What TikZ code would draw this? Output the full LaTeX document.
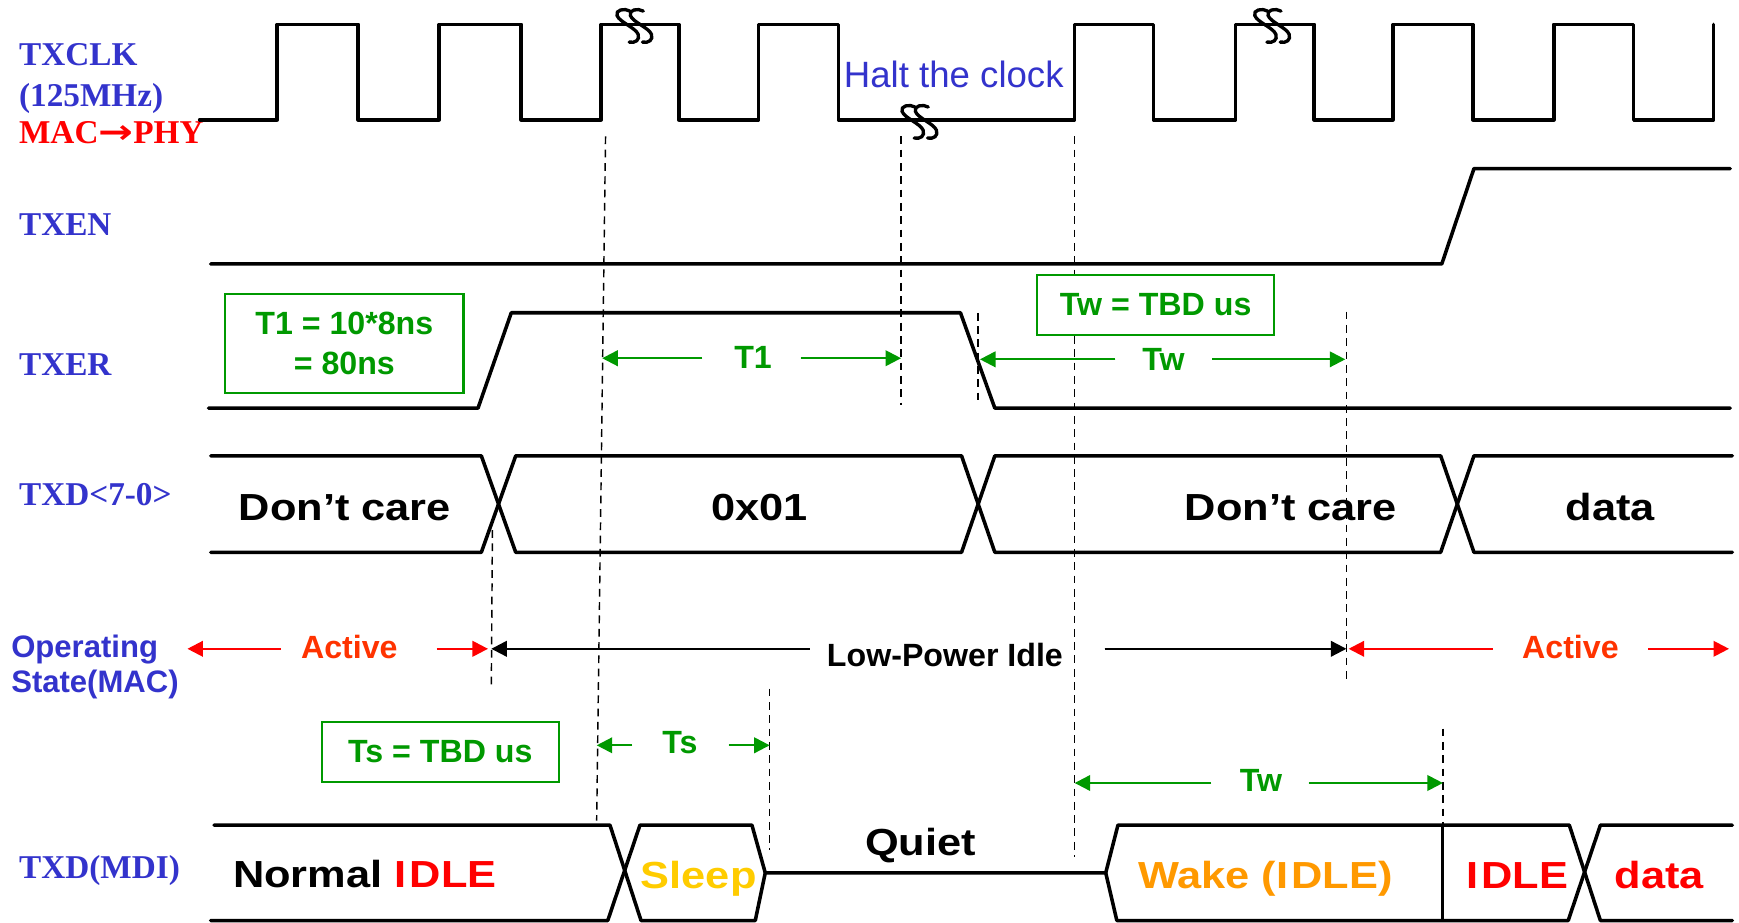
\documentclass[tikz,border=0pt]{standalone}
\usepackage{fontspec}
\setmainfont{Liberation Serif}
\newfontfamily\arial{Liberation Sans}
\newfontfamily\arialw[FakeStretch=1.15]{Liberation Sans}
\newfontfamily\djv{DejaVu Sans}
\usetikzlibrary{arrows.meta}
\definecolor{lblblue}{RGB}{51,51,204}
\definecolor{grn}{RGB}{0,153,0}
\definecolor{actred}{RGB}{255,51,0}
\definecolor{slpyel}{RGB}{255,204,0}
\definecolor{wakeor}{RGB}{255,153,0}
\tikzset{
  sig/.style={line width=3.2pt, line join=round, line cap=round},
  dline/.style={line width=1.3pt, dash pattern=on 7pt off 5pt},
  tip/.style={-{Triangle[length=14pt,width=14pt]}, line width=2pt},
  garr/.style={tip, draw=grn, fill=grn},
  rarr/.style={tip, draw=red, fill=red},
  karr/.style={tip, draw=black, fill=black},
  gbox/.style={draw=grn, line width=2pt, fill=white, text=grn, font=\arial\bfseries\fontsize{29}{36}\selectfont, align=center, inner sep=0pt},
  lbl/.style={anchor=base west, text=lblblue, font=\bfseries\fontsize{30}{32}\selectfont, inner sep=0pt},
  slbl/.style={anchor=base west, text=lblblue, font=\arial\bfseries\fontsize{28}{30}\selectfont, inner sep=0pt},
  sfb/.style={anchor=base, font=\arialw\bfseries\fontsize{34}{36}\selectfont, inner sep=0pt},
  gtxt/.style={anchor=base, text=grn, font=\arial\bfseries\fontsize{29}{30}\selectfont, inner sep=0pt},
  stxt/.style={anchor=base, font=\arial\bfseries\fontsize{29}{30}\selectfont, inner sep=0pt},
  sstroke/.style={line width=3pt, line cap=round},
  brk/.pic={
    \draw[sstroke, xshift=-6pt] (2,-13) .. controls (-3,-16) and (-11.5,-14) .. (-9.6,-9) .. controls (-7.5,-3) and (7.2,2) .. (9.4,8) .. controls (11,13) and (7,16) .. (1.3,15);
    \draw[sstroke, xshift=6pt] (2,-13) .. controls (-3,-16) and (-11.5,-14) .. (-9.6,-9) .. controls (-7.5,-3) and (7.2,2) .. (9.4,8) .. controls (11,13) and (7,16) .. (1.3,15);
  }
}
\newcommand{\Ispace}{I\kern3pt }
\begin{document}
\begin{tikzpicture}[x=1pt,y=-1pt]
\useasboundingbox (0,0) rectangle (1568,832);
\fill[white] (0,0) rectangle (1568,832);

% guide lines
\draw[dline] (546,123) -- (538,740);
\draw[dline] (812.5,123) -- (812.5,365);
\draw[dline] (882,282) -- (882,365);
\draw[dline] (969,123) -- (969,773);
\draw[dline] (1214,281) -- (1214,613);
\draw[dline] (444,478) -- (443,621);
\draw[dline] (694,621) -- (694,766);
\draw[dline] (1301,657) -- (1301,744);

% boxes
\node[gbox, minimum width=215pt, minimum height=89pt] (t1box) at (310.5,309.5) {T1 = 10*8ns\\= 80ns};
\node[gbox, minimum width=214pt, minimum height=54pt] (twbox) at (1042,275) {Tw = TBD us};
\node[gbox, minimum width=214pt, minimum height=54pt] (tsbox) at (397,678) {Ts = TBD us};

% row labels
\node[lbl] (lclk) at (17,59) {TXCLK};
\node[lbl] (lmhz) at (17,96) {(125MHz)};
\node[lbl, text=red] (lmac) at (17,129) {MAC\scalebox{1.25}[1]{\djv\bfseries →}PHY};
\node[lbl] (len) at (17,212) {TXEN};
\node[lbl] (ler) at (17,339) {TXER};
\node[lbl] (ltxd) at (17,456) {TXD<7-0>};
\node[slbl] (lop) at (10,593) {Operating};
\node[slbl] (lst) at (10,624) {State(MAC)};
\node[lbl] (lmdi) at (17,792) {TXD(MDI)};

% TXCLK
\draw[sig] (180,108) -- (250,108) -- (250,22) -- (323,22) -- (323,108) -- (396,108) -- (396,22) -- (470,22) -- (470,108) -- (542,108) -- (542,22) -- (612,22) -- (612,108) -- (684,108) -- (684,22) -- (756,22) -- (756,108) -- (969,108) -- (969,22) -- (1040,22) -- (1040,108) -- (1114,108) -- (1114,22) -- (1185,22) -- (1185,108) -- (1256,108) -- (1256,22) -- (1328,22) -- (1328,108) -- (1401,108) -- (1401,22) -- (1473,22) -- (1473,108) -- (1545,108) -- (1545,22);
\pic at (572,23) {brk};
\pic at (829,109.5) {brk};
\pic at (1147,23) {brk};
\node[anchor=base, text=lblblue, font=\arial\fontsize{33}{35}\selectfont, inner sep=0pt] (halt) at (860,79) {Halt the clock};

% TXEN
\draw[sig] (190,238) -- (1300,238) -- (1329,152) -- (1560,152);

% TXER
\draw[sig] (188,368) -- (431,368) -- (461,282) -- (866,282) -- (897,368) -- (1560,368);

% TXD<7-0>
\draw[sig] (190,411) -- (434,411) -- (465,498) -- (867,498) -- (897,411) -- (1299,411) -- (1329,498) -- (1562,498);
\draw[sig] (190,498) -- (434,498) -- (465,411) -- (867,411) -- (897,498) -- (1299,498) -- (1329,411) -- (1562,411);
\node[sfb] (dc1) at (311,469) {Don’t care};
\node[sfb] (x01) at (685,469) {0x01};
\node[sfb] (dc2) at (1164,469) {Don’t care};
\node[sfb] (dat1) at (1452,469) {data};

% TXD(MDI)
\draw[sig] (193,744) -- (550,744) -- (578,830) -- (681,830) -- (690,787) -- (997,787) -- (1008,744) -- (1415,744) -- (1443,830) -- (1562,830);
\draw[sig] (190,830) -- (548,830) -- (577,744) -- (678,744) -- (690,787);
\draw[sig] (997,787) -- (1007,830) -- (1414,830) -- (1443,744) -- (1562,744);
\draw[line width=2.6pt] (1301,744) -- (1301,830);
\node[sfb, anchor=base west] (nidle) at (210,800) {Normal \textcolor{red}{\Ispace DLE}};
\node[sfb, text=slpyel] (sleep) at (630,801) {Sleep};
\node[sfb] (quiet) at (830,771) {Quiet};
\node[sfb, text=wakeor] (wake) at (1141,801) {Wake (\Ispace DLE)};
\node[sfb, text=red] (idle2) at (1368,801) {\Ispace DLE};
\node[sfb, text=red] (dat2) at (1496,801) {data};

% timing arrows
\node[gtxt] (t1) at (679,332) {T1};
\coordinate (t1a) at (543,323); \coordinate (t1l) at (633,323);
\coordinate (t1r) at (722,323); \coordinate (t1b) at (812.5,323);
\draw[garr] (t1l) -- (t1a);
\draw[garr] (t1r) -- (t1b);

\node[gtxt] (tw1) at (1049,334) {Tw};
\coordinate (tw1a) at (883.6,324); \coordinate (tw1l) at (1005.6,324);
\coordinate (tw1r) at (1093,324); \coordinate (tw1b) at (1213,324);
\draw[garr] (tw1l) -- (tw1a);
\draw[garr] (tw1r) -- (tw1b);

\node[gtxt] (ts) at (613,679) {Ts};
\coordinate (tsa) at (538,672); \coordinate (tsl) at (570,672);
\coordinate (tsr) at (657,672); \coordinate (tsb) at (694,672);
\draw[garr] (tsl) -- (tsa);
\draw[garr] (tsr) -- (tsb);

\node[gtxt] (tw2) at (1137,714) {Tw};
\coordinate (tw2a) at (969,706); \coordinate (tw2l) at (1092,706);
\coordinate (tw2r) at (1180,706); \coordinate (tw2b) at (1301,706);
\draw[garr] (tw2l) -- (tw2a);
\draw[garr] (tw2r) -- (tw2b);

% operating state
\node[stxt, text=actred] (act1) at (315,593.4) {Active};
\node[stxt] (lpi) at (852,601) {Low-Power Idle};
\node[stxt, text=actred] (act2) at (1416,593.4) {Active};
\coordinate (a1l) at (253,585); \coordinate (a1tip) at (169,585);
\coordinate (a1r) at (394,585); \coordinate (a1tip2) at (440,585);
\coordinate (lpl) at (730,585); \coordinate (lptip) at (443,585);
\coordinate (lpr) at (996,585); \coordinate (lptip2) at (1214,585);
\coordinate (a2l) at (1346,585); \coordinate (a2tip) at (1216,585);
\coordinate (a2r) at (1486,585); \coordinate (a2tip2) at (1559,585);
\draw[rarr] (a1l) -- (a1tip);
\draw[rarr] (a1r) -- (a1tip2);
\draw[karr] (lpl) -- (lptip);
\draw[karr] (lpr) -- (lptip2);
\draw[rarr] (a2l) -- (a2tip);
\draw[rarr] (a2r) -- (a2tip2);
\end{tikzpicture}
\end{document}
